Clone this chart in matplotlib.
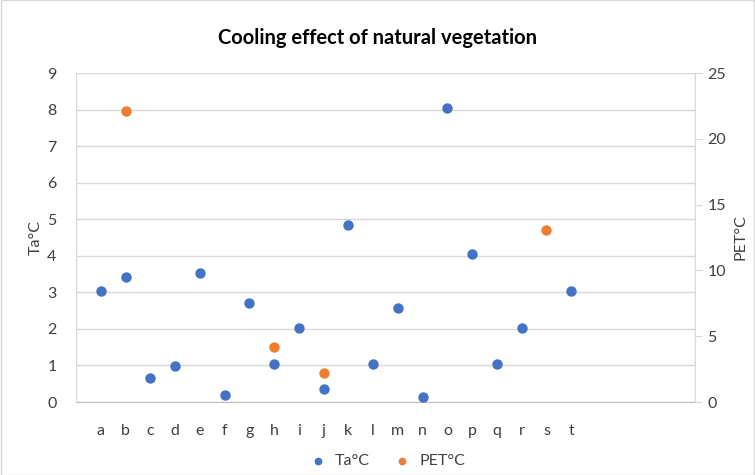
import matplotlib.pyplot as plt
import numpy as np

plt.rcParams["font.family"] = ["Lato", "DejaVu Sans"]

labels = list("abcdefghijklmnopqrst")
ta = [3.04, 3.42, 0.65, 0.98, 3.53, 0.18, 2.72, 1.03, 2.03, 0.35,
      4.83, 1.03, 2.56, 0.13, 8.05, 4.04, 1.03, 2.03, None, 3.04]
pet_labels = ["b", "h", "j", "s"]
pet = [22.1, 4.15, 2.2, 13.1]

BLUE = "#4472C4"
ORANGE = "#ED7D31"
GRID = "#D9D9D9"
TXT = "#404040"

fig = plt.figure(figsize=(7.55, 4.75), dpi=100)
ax = fig.add_axes([76 / 755, 1 - 402 / 475, (695 - 76) / 755, (402 - 73) / 475])
ax2 = ax.twinx()

xpos = {lab: i + 1 for i, lab in enumerate(labels)}
tx = [xpos[l] for l, v in zip(labels, ta) if v is not None]
ty = [v for v in ta if v is not None]
ax.scatter(tx, ty, s=42, color=BLUE, zorder=3, label="Ta°C")
ax2.scatter([xpos[l] for l in pet_labels], pet, s=42, color=ORANGE, zorder=3, label="PET°C")

ax.set_xlim(0, 25)
ax.set_ylim(0, 9)
ax2.set_ylim(0, 25)
ax.set_yticks(range(0, 10))
ax2.set_yticks(range(0, 26, 5))
ax.set_xticks(range(1, 21))
ax.set_xticklabels(labels)
ax.set_xticks(range(0, 26, 5), minor=True)

ax.grid(axis="y", color=GRID, linewidth=1)
ax.grid(axis="x", which="minor", color=GRID, linewidth=1)
ax.set_axisbelow(True)

for a in (ax, ax2):
    for sp in a.spines.values():
        sp.set_visible(False)
ax.spines["bottom"].set_visible(True)
ax.spines["bottom"].set_color("#BFBFBF")
ax2.spines["right"].set_visible(True)
ax2.spines["right"].set_color(GRID)

ax.tick_params(axis="both", which="both", length=0, colors=TXT, labelsize=11.5)
ax.tick_params(axis="y", pad=14)
ax.tick_params(axis="x", pad=16)
ax2.tick_params(axis="y", length=5, color=GRID, colors=TXT, labelsize=11.5, pad=4)

ax.set_ylabel("Ta°C", color=TXT, fontsize=11.5, labelpad=3)
ax2.set_ylabel("PET°C", color=TXT, fontsize=11.5, labelpad=5)

fig.suptitle("Cooling effect of natural vegetation", y=0.94, fontsize=14.5,
             fontweight="bold", color="black")

h1, l1 = ax.get_legend_handles_labels()
h2, l2 = ax2.get_legend_handles_labels()
fig.legend(h1 + h2, l1 + l2, loc="center", bbox_to_anchor=(0.508, 0.03), ncol=2,
           frameon=False, fontsize=11.5, labelcolor=TXT, handletextpad=0.1,
           columnspacing=1.0, markerscale=0.7)

fig.patches.append(plt.Rectangle((0.001, 0.001), 0.998, 0.998, transform=fig.transFigure,
                                 fill=False, edgecolor=GRID, linewidth=1))

fig.savefig("out.png", dpi=100)
